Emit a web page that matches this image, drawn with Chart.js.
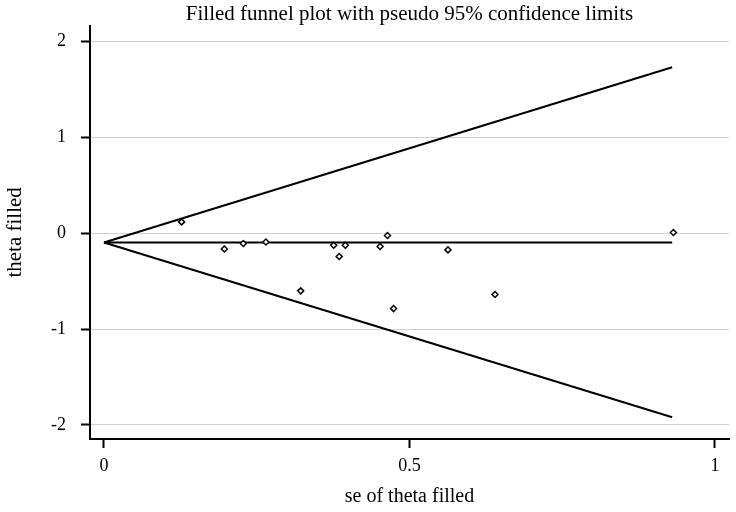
<!DOCTYPE html>
<html>
<head>
<meta charset="utf-8">
<script src="https://cdn.jsdelivr.net/npm/chart.js@4.4.0/dist/chart.umd.min.js"></script>
<style>
html, body { margin: 0; padding: 0; background: #fff; }
</style>
</head>
<body>
<canvas id="funnel" width="736" height="512"></canvas>
<script>
// studies (observed + filled), se on x, theta on y
var seValues    = [0.127, 0.197, 0.228, 0.265, 0.322, 0.376, 0.385, 0.395, 0.452, 0.464, 0.474, 0.563, 0.640, 0.932];
var thetaValues = [0.118, -0.164, -0.107, -0.091, -0.601, -0.125, -0.243, -0.125, -0.139, -0.024, -0.786, -0.174, -0.639, 0.007];

// pseudo 95% limits and pooled estimate, read at both ends
var limitSe    = [0, 0.93];
var upperLimit = [-0.096, 1.73];
var lowerLimit = [-0.096, -1.92];
var pooledLine = [-0.096, -0.096];

var xTicks = [0, 0.5, 1];
var xTickLabels = ["0", "0.5", "1"];
var yTicks = [-2, -1, 0, 1, 2];
var yTickLabels = ["-2", "-1", "0", "1", "2"];

var titleText = "Filled funnel plot with pseudo 95% confidence limits";
var serif = '"Liberation Serif", "Times New Roman", serif';

function pairs(xs, ys) {
  return xs.map(function(x, i) { return { x: x, y: ys[i] }; });
}

function lineSet(ys) {
  return {
    type: 'line',
    data: pairs(limitSe, ys),
    borderColor: '#000',
    borderWidth: 2,
    pointRadius: 0,
    fill: false
  };
}

// title centred over the plot region, like the original
var titlePlugin = {
  id: 'plotTitle',
  afterDraw: function(chart) {
    var ctx = chart.ctx, area = chart.chartArea;
    ctx.save();
    ctx.font = '21px ' + serif;
    ctx.fillStyle = '#000';
    ctx.textAlign = 'center';
    ctx.textBaseline = 'alphabetic';
    ctx.fillText(titleText, (area.left + area.right) / 2, 20);
    ctx.restore();
  }
};

new Chart(document.getElementById("funnel"), {
  type: 'scatter',
  data: {
    datasets: [
      {
        data: pairs(seValues, thetaValues),
        pointStyle: 'rectRot',
        pointRadius: 3,
        borderColor: '#000',
        borderWidth: 1.5,
        backgroundColor: '#fff'
      },
      lineSet(pooledLine),
      lineSet(upperLimit),
      lineSet(lowerLimit)
    ]
  },
  options: {
    responsive: false,
    animation: false,
    layout: { padding: { top: 25, right: 7, left: 0, bottom: 0 } },
    plugins: {
      legend: { display: false },
      tooltip: { enabled: false }
    },
    scales: {
      x: {
        type: 'linear',
        min: -0.0229,
        max: 1.023,
        afterBuildTicks: function(s) { s.ticks = xTicks.map(function(v) { return { value: v }; }); },
        afterFit: function(s) { s.height = 73; },
        ticks: {
          callback: function(v, i) { return xTickLabels[i]; },
          font: { family: serif, size: 18 },
          color: '#000',
          padding: 7,
          maxRotation: 0
        },
        grid: { drawOnChartArea: false, drawTicks: true, tickLength: 9, tickColor: '#000', tickWidth: 2 },
        border: { color: '#000', width: 2 },
        title: {
          display: true,
          text: 'se of theta filled',
          font: { family: serif, size: 20 },
          color: '#000',
          padding: { top: 0, bottom: 3 }
        }
      },
      y: {
        min: -2.146,
        max: 2.163,
        afterBuildTicks: function(s) { s.ticks = yTicks.map(function(v) { return { value: v }; }); },
        afterFit: function(s) { s.width = 90; },
        ticks: {
          callback: function(v, i) { return yTickLabels[i]; },
          font: { family: serif, size: 18 },
          color: '#000',
          padding: 15
        },
        grid: { color: '#d2d2d2', lineWidth: 1, tickLength: 9, tickColor: '#000', tickWidth: 2 },
        border: { color: '#000', width: 2 },
        title: {
          display: true,
          text: 'theta filled',
          font: { family: serif, size: 21 },
          color: '#000',
          padding: { top: 3, bottom: 0 }
        }
      }
    }
  },
  plugins: [titlePlugin]
});
</script>
</body>
</html>
